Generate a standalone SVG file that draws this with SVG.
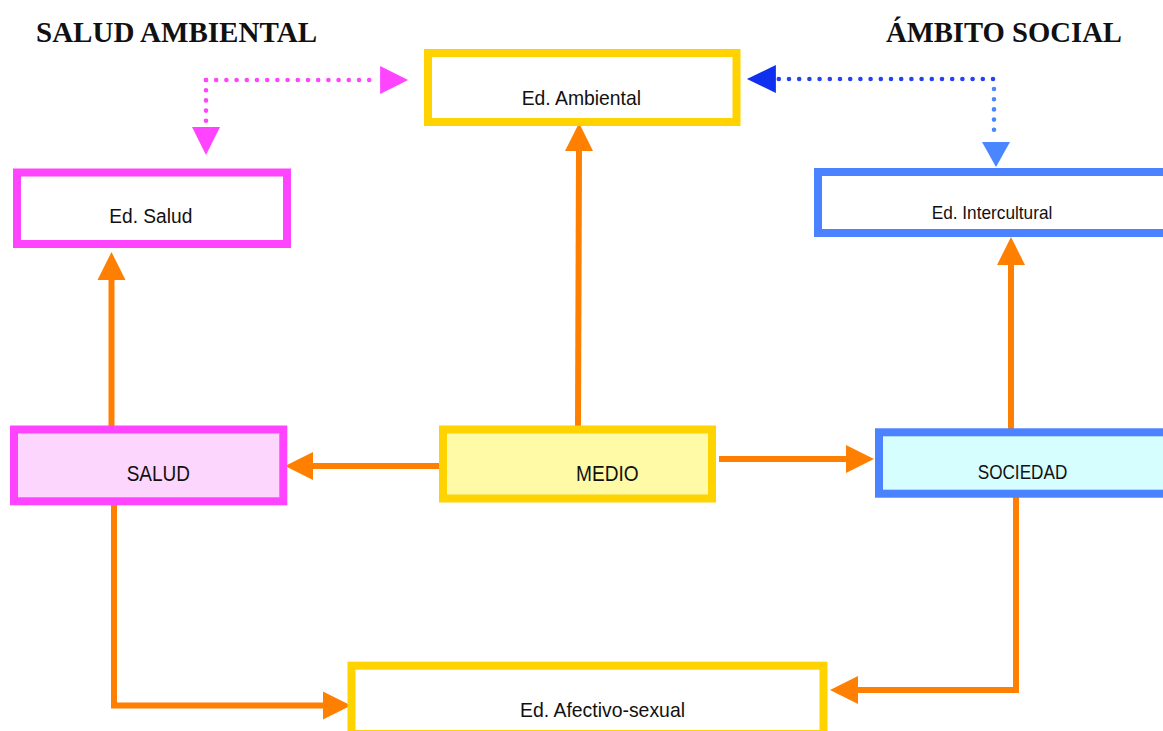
<svg xmlns="http://www.w3.org/2000/svg" width="1163" height="731" viewBox="0 0 1163 731">
<style>
.box{stroke-width:8}
.yel{stroke:#FFD300}
.mag{stroke:#FF44FF}
.blu{stroke:#4A82FF}
.lbl{font-family:"Liberation Sans",Arial,sans-serif;font-size:21px;fill:#111}
.ttl{font-family:"Liberation Serif","Times New Roman",serif;font-weight:bold;font-size:29px;fill:#111}
.or{fill:none;stroke:#FF7F00;stroke-width:6}
.dot{fill:none;stroke-width:4.6;stroke-linecap:round;stroke-dasharray:0 10.2}
</style>
<defs>
<marker id="aO" markerUnits="userSpaceOnUse" markerWidth="28" markerHeight="28" refX="0" refY="14" orient="auto" overflow="visible"><path d="M0,0 L28,14 L0,28 Z" fill="#FF7F00"/></marker>
<marker id="aM" markerUnits="userSpaceOnUse" markerWidth="28" markerHeight="28" refX="0" refY="14" orient="auto" overflow="visible"><path d="M0,0 L28,14 L0,28 Z" fill="#FF44FF"/></marker>
<marker id="aB" markerUnits="userSpaceOnUse" markerWidth="28" markerHeight="28" refX="0" refY="14" orient="auto" overflow="visible"><path d="M0,0 L29,14 L0,28 Z" fill="#1030F0"/></marker>
<marker id="aL" markerUnits="userSpaceOnUse" markerWidth="28" markerHeight="28" refX="0" refY="14" orient="auto" overflow="visible"><path d="M0,0 L25,14 L0,28 Z" fill="#4A86FF"/></marker>
</defs>
<rect width="1163" height="731" fill="#fff"/>
<text class="ttl" x="36" y="42" textLength="281" lengthAdjust="spacingAndGlyphs">SALUD AMBIENTAL</text>
<text class="ttl" x="886" y="42" textLength="236" lengthAdjust="spacingAndGlyphs">ÁMBITO SOCIAL</text>
<g id="connectors">
<path class="or" d="M111.5,426 V280" marker-end="url(#aO)"/>
<path class="or" d="M578,426 L579,151" marker-end="url(#aO)"/>
<path class="or" d="M439,466 H313" marker-end="url(#aO)"/>
<path class="or" d="M719,459 H846" marker-end="url(#aO)"/>
<path class="or" d="M1011,433 V265" marker-end="url(#aO)"/>
<path class="or" d="M114,505 V705.5 H323" marker-end="url(#aO)"/>
<path class="or" d="M1016,495 V690 H858" marker-end="url(#aO)"/>
<path class="dot" stroke="#FF44FF" d="M206,80 H376"/>
<path d="M380,80 H380.1" fill="none" stroke="none" marker-end="url(#aM)"/>
<path class="dot" stroke="#FF44FF" d="M206,80 V125"/>
<path d="M206,127 V127.1" fill="none" stroke="none" marker-end="url(#aM)"/>
<path class="dot" stroke="#2442F0" d="M993,79 H777"/>
<path d="M776,79 H775.9" fill="none" stroke="none" marker-end="url(#aB)"/>
<path class="dot" stroke="#4A86FF" d="M994,89 V133"/>
<path d="M996,142 V142.1" fill="none" stroke="none" marker-end="url(#aL)"/>
</g>
<g id="ed-ambiental"><rect class="box yel" x="428" y="53" width="308.5" height="69" fill="#fff"/><text class="lbl" x="521.7" y="105" textLength="119.3" lengthAdjust="spacingAndGlyphs">Ed. Ambiental</text></g>
<g id="ed-salud"><rect class="box mag" x="17" y="172.5" width="270" height="71.5" fill="#fff"/><text class="lbl" x="109.3" y="223" textLength="83" lengthAdjust="spacingAndGlyphs" style="font-size:20px">Ed. Salud</text></g>
<g id="ed-intercultural"><rect class="box blu" x="818" y="172" width="360" height="61" fill="#fff"/><text class="lbl" x="931.7" y="219" textLength="120.6" lengthAdjust="spacingAndGlyphs" style="font-size:19px">Ed. Intercultural</text></g>
<g id="salud"><rect class="box mag" x="14" y="429.5" width="269.3" height="71.8" fill="#FCD6FC"/><text class="lbl" x="126.7" y="480.7" textLength="63.3" lengthAdjust="spacingAndGlyphs" style="font-size:22px">SALUD</text></g>
<g id="medio"><rect class="box yel" x="443" y="429.5" width="269" height="69" fill="#FEFAA6"/><text class="lbl" x="576" y="480.7" textLength="62.7" lengthAdjust="spacingAndGlyphs" style="font-size:22px">MEDIO</text></g>
<g id="sociedad"><rect class="box blu" x="879" y="432.3" width="300" height="61.4" fill="#D6FEFE"/><text class="lbl" x="977.7" y="479.3" textLength="89.6" lengthAdjust="spacingAndGlyphs" style="font-size:20px">SOCIEDAD</text></g>
<g id="ed-afectivo"><rect class="box yel" x="351.5" y="665.7" width="472" height="68.3" fill="#fff"/><text class="lbl" x="520" y="716.7" textLength="165" lengthAdjust="spacingAndGlyphs">Ed. Afectivo-sexual</text></g>
</svg>
